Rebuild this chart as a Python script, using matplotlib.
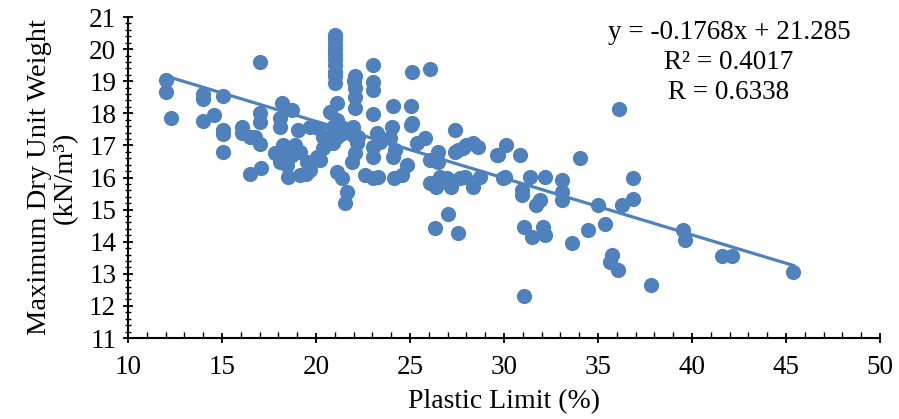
import numpy as np
import matplotlib
matplotlib.use("Agg")
import matplotlib.pyplot as plt
from matplotlib.ticker import MultipleLocator

# Plastic limit (%) and max dry unit weight (kN/m3)
plastic_limit = [
    12.0, 12.0, 12.3, 14.0, 14.0, 14.0, 14.55, 15.05, 15.05, 15.05, 15.05,
    16.05, 16.05, 16.5, 16.5, 17.0, 17.02, 17.02, 17.02, 16.76, 17.05,
    18.18, 18.71, 18.08, 18.08, 19.06, 19.68, 20.12,
    18.26, 18.88, 19.15, 18.71, 18.26, 17.82, 18.08, 18.44, 19.5, 20.04, 20.39,
    18.53, 19.15, 19.68, 19.45,
    20.74, 21.1, 21.1, 20.92, 20.39, 20.92, 20.92,
    21.0, 21.0, 21.0, 21.0, 21.0, 21.0, 21.0, 21.0, 21.0, 21.0,
    21.1, 21.45, 21.98, 22.16, 22.07, 21.9, 21.45, 21.98, 22.25,
    21.1, 21.37, 21.63, 21.54, 20.2,
    22.07, 22.0, 22.07, 22.07, 22.07,
    22.6, 23.05, 23.3,
    23.05, 23.05, 23.05, 23.05, 23.05, 23.05, 23.22, 23.4,
    24.02, 23.93, 24.2, 24.11, 24.08, 24.17, 24.56, 24.83,
    25.09, 25.05, 25.05, 25.35, 25.8, 25.09,
    26.06, 26.06, 26.5, 26.5, 26.06, 26.6, 27.22, 27.93, 28.37, 28.72,
    27.4, 27.4, 27.84, 28.37, 28.6, 29.6,
    26.33, 27.04, 27.53,
    26.95, 27.66, 29.97, 26.4, 27.2, 28.0, 27.57, 29.7,
    30.1, 30.85, 30.05, 31.38, 32.18, 33.07, 30.94, 30.94, 31.9, 31.7,
    33.07, 33.07, 34.04, 36.13, 36.88, 36.88, 36.26, 35.02,
    31.06, 31.47, 32.09, 32.18, 33.6, 34.48, 35.37, 35.73, 35.64, 36.08,
    31.06, 37.82,
    39.54, 39.63, 41.58, 42.1, 45.39,
]
dry_unit_weight = [
    19.05, 18.65, 17.85, 18.6, 18.45, 17.75, 17.95, 18.55, 17.48, 17.36, 16.8,
    17.58, 17.38, 17.27, 16.12, 19.6, 18.0, 17.74, 17.05, 17.27, 16.3,
    18.31, 18.1, 17.84, 17.58, 17.48, 17.58, 17.53,
    17.01, 17.01, 16.8, 16.7, 16.65, 16.75, 16.49, 16.39, 16.49, 16.65, 16.91,
    16.03, 16.08, 16.23, 16.12,
    18.05, 18.31, 17.79, 17.22, 17.27, 17.07, 17.58,
    20.45, 20.3, 20.15, 20.0, 19.85, 19.7, 19.5, 19.3, 19.15, 18.95,
    17.27, 17.38, 17.32, 17.07, 16.75, 16.49, 17.53, 17.58, 17.27,
    16.18, 15.97, 15.56, 15.2, 16.55,
    19.15, 19.0, 18.8, 18.52, 18.16,
    16.08, 15.97, 16.03,
    19.5, 18.98, 18.73, 17.98, 16.96, 16.65, 17.38, 17.12,
    17.58, 17.22, 16.86, 16.65, 18.23, 15.97, 16.08, 16.39,
    19.3, 18.23, 17.64, 17.07, 17.22, 17.69,
    19.37, 16.55, 16.78, 16.49, 15.82, 16.03, 15.87, 16.03, 15.71, 16.03,
    17.48, 16.8, 16.91, 17.07, 16.96, 16.7,
    14.42, 14.86, 14.26,
    15.97, 15.97, 16.0, 15.71, 15.71, 17.01, 16.86, 16.7,
    17.0, 16.7, 16.03, 16.03, 16.03, 15.92, 15.6, 15.45, 15.3, 15.14,
    15.56, 15.3, 16.6, 18.12, 16.0, 15.33, 15.14, 15.14,
    14.47, 14.16, 14.47, 14.2, 13.95, 14.36, 14.55, 13.59, 13.38, 13.12,
    12.32, 12.65,
    14.36, 14.05, 13.55, 13.55, 13.07,
]

slope = -0.1768
intercept = 21.285
eq_lines = ["y = -0.1768x + 21.285", "R\u00b2 = 0.4017", "R = 0.6338"]


def main():
    plt.rcParams["font.family"] = ["Liberation Serif", "DejaVu Serif"]
    blue = "#4F81BD"
    fs = 19.5

    fig = plt.figure(figsize=(8.99, 4.19), dpi=100)
    ax = fig.add_axes([0.1424, 0.1933, 0.8365, 0.7661])

    ax.scatter(plastic_limit, dry_unit_weight, s=120, color=blue,
               linewidths=0, zorder=3)

    xl = np.array([min(plastic_limit), max(plastic_limit)])
    ax.plot(xl, slope * xl + intercept, color=blue, lw=2.3, zorder=2)

    ax.set_xlim(10, 50)
    ax.set_ylim(11, 21)
    ax.xaxis.set_major_locator(MultipleLocator(5))
    ax.xaxis.set_minor_locator(MultipleLocator(1))
    ax.yaxis.set_major_locator(MultipleLocator(1))
    ax.yaxis.set_minor_locator(MultipleLocator(0.2))

    ax.tick_params(axis="both", which="major", direction="inout", length=7,
                   width=1.3, labelsize=fs, color="black")
    ax.tick_params(axis="x", which="major", pad=9)
    ax.tick_params(axis="y", which="major", pad=5)
    ax.tick_params(axis="x", which="minor", direction="in", length=4,
                   width=1.0)
    ax.tick_params(axis="y", which="minor", direction="inout", length=4,
                   width=1.0)

    for side in ("top", "right"):
        ax.spines[side].set_visible(False)
    for side in ("left", "bottom"):
        ax.spines[side].set_linewidth(1.5)

    ax.set_xlabel("Plastic Limit (%)", fontsize=20, labelpad=6)
    ax.set_ylabel("Maximum Dry Unit Weight\n(kN/m\u00b3)", fontsize=20.5,
                  linespacing=1.05, labelpad=8)

    ax.text(0.799, 0.99, "\n".join(eq_lines), transform=ax.transAxes,
            ha="center", va="top", fontsize=fs, linespacing=1.25)

    fig.savefig("out.png", dpi=100)


if __name__ == "__main__":
    main()
